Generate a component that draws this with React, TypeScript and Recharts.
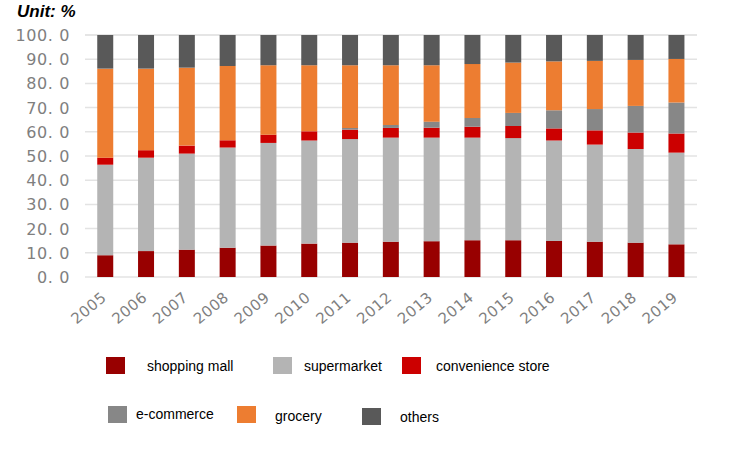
import React from 'react';
import { BarChart, Bar, XAxis, YAxis, CartesianGrid } from 'recharts';

// Share of retail sales by channel, 2005–2019 (%)
const years = ['2005', '2006', '2007', '2008', '2009', '2010', '2011', '2012', '2013', '2014', '2015', '2016', '2017', '2018', '2019'];
const shoppingMall = [9.0, 10.7, 11.3, 12.1, 13.0, 13.8, 14.2, 14.6, 14.8, 15.2, 15.2, 14.9, 14.6, 14.2, 13.5];
const supermarket = [37.4, 38.6, 39.7, 41.4, 42.4, 42.6, 42.8, 43.0, 42.8, 42.4, 42.2, 41.5, 40.1, 38.7, 37.9];
const convenienceStore = [2.9, 3.1, 3.3, 3.0, 3.4, 3.8, 3.9, 4.0, 4.1, 4.5, 5.0, 5.0, 5.9, 6.8, 7.9];
const eCommerce = [0, 0, 0, 0, 0, 0, 0.7, 1.2, 2.5, 3.6, 5.4, 7.5, 8.8, 11.0, 12.8];
const grocery = [36.8, 33.7, 32.2, 30.7, 28.7, 27.3, 25.9, 24.7, 23.3, 22.3, 20.8, 20.2, 19.9, 19.0, 18.0];
const others = [13.9, 13.9, 13.5, 12.8, 12.5, 12.5, 12.5, 12.5, 12.5, 12.0, 11.4, 10.9, 10.7, 10.3, 9.9];
const yTicks = [0, 10, 20, 30, 40, 50, 60, 70, 80, 90, 100];

const seriesNames = ['shopping mall', 'supermarket', 'convenience store', 'e-commerce', 'grocery', 'others'];
const seriesValues = [shoppingMall, supermarket, convenienceStore, eCommerce, grocery, others];
const seriesColors = ['#980000', '#b4b4b4', '#cc0000', '#878787', '#ed7d31', '#595959'];

const data = years.map((year, i) => {
  const row: Record<string, string | number> = { year };
  seriesNames.forEach((name, s) => {
    row[name] = seriesValues[s][i];
  });
  return row;
});

// Legend placement: two rows, loosely spaced
const legendLayout = [
  { sx: 106, sy: 357, tx: 147, ty: 366 },
  { sx: 273, sy: 357, tx: 304, ty: 366 },
  { sx: 402, sy: 357, tx: 436, ty: 366 },
  { sx: 108, sy: 406, tx: 136, ty: 414 },
  { sx: 237, sy: 406, tx: 275, ty: 416 },
  { sx: 362, sy: 408, tx: 400, ty: 417 },
];

const tickFont = '"DejaVu Sans", sans-serif';

const formatY = (v: number) => v.toFixed(1).replace('.', '. ');

const XTick = (props: any) => {
  const { x, y, payload } = props;
  return (
    <g transform={`translate(${x + 2},${y + 14})`}>
      <text
        x={0}
        y={0}
        textAnchor="end"
        transform="rotate(-40)"
        fill="#7f7f7f"
        fontSize={15}
        fontFamily={tickFont}
        letterSpacing={0.5}
      >
        {payload.value}
      </text>
    </g>
  );
};

const YTick = (props: any) => {
  const { x, y, payload } = props;
  return (
    <text
      x={x - 7}
      y={y}
      dy={6}
      textAnchor="end"
      fill="#7f7f7f"
      fontSize={16}
      fontFamily={tickFont}
      letterSpacing={0.6}
    >
      {formatY(payload.value)}
    </text>
  );
};

export default function App() {
  return (
    <div style={{ position: 'absolute', left: 0, top: 0, width: 736, height: 456, background: '#fff' }}>
      <div
        style={{
          position: 'absolute',
          left: 17,
          top: 2,
          fontFamily: '"Liberation Sans", Arial, sans-serif',
          fontWeight: 'bold',
          fontStyle: 'italic',
          fontSize: 17,
          color: '#000',
        }}
      >
        Unit: %
      </div>
      <BarChart
        width={736}
        height={456}
        data={data}
        margin={{ top: 35, right: 39, left: 0, bottom: 119 }}
        barCategoryGap="30%"
      >
        <CartesianGrid vertical={false} stroke="#e3e3e3" strokeWidth={1.5} />
        <XAxis
          dataKey="year"
          height={60}
          axisLine={false}
          tickLine={false}
          interval={0}
          tick={<XTick />}
        />
        <YAxis
          width={85}
          domain={[0, 100]}
          ticks={yTicks}
          axisLine={false}
          tickLine={false}
          interval={0}
          tick={<YTick />}
        />
        {seriesNames.map((name, s) => (
          <Bar key={name} dataKey={name} stackId="share" fill={seriesColors[s]} isAnimationActive={false} />
        ))}
      </BarChart>
      {seriesNames.map((name, s) => {
        const p = legendLayout[s];
        return (
          <React.Fragment key={name}>
            <div
              style={{
                position: 'absolute',
                left: p.sx,
                top: p.sy,
                width: 19,
                height: 17,
                background: seriesColors[s],
              }}
            />
            <div
              style={{
                position: 'absolute',
                left: p.tx,
                top: p.ty - 9,
                lineHeight: '18px',
                fontSize: 14,
                fontFamily: '"Liberation Sans", Arial, sans-serif',
                color: '#000',
                whiteSpace: 'nowrap',
              }}
            >
              {name}
            </div>
          </React.Fragment>
        );
      })}
    </div>
  );
}
